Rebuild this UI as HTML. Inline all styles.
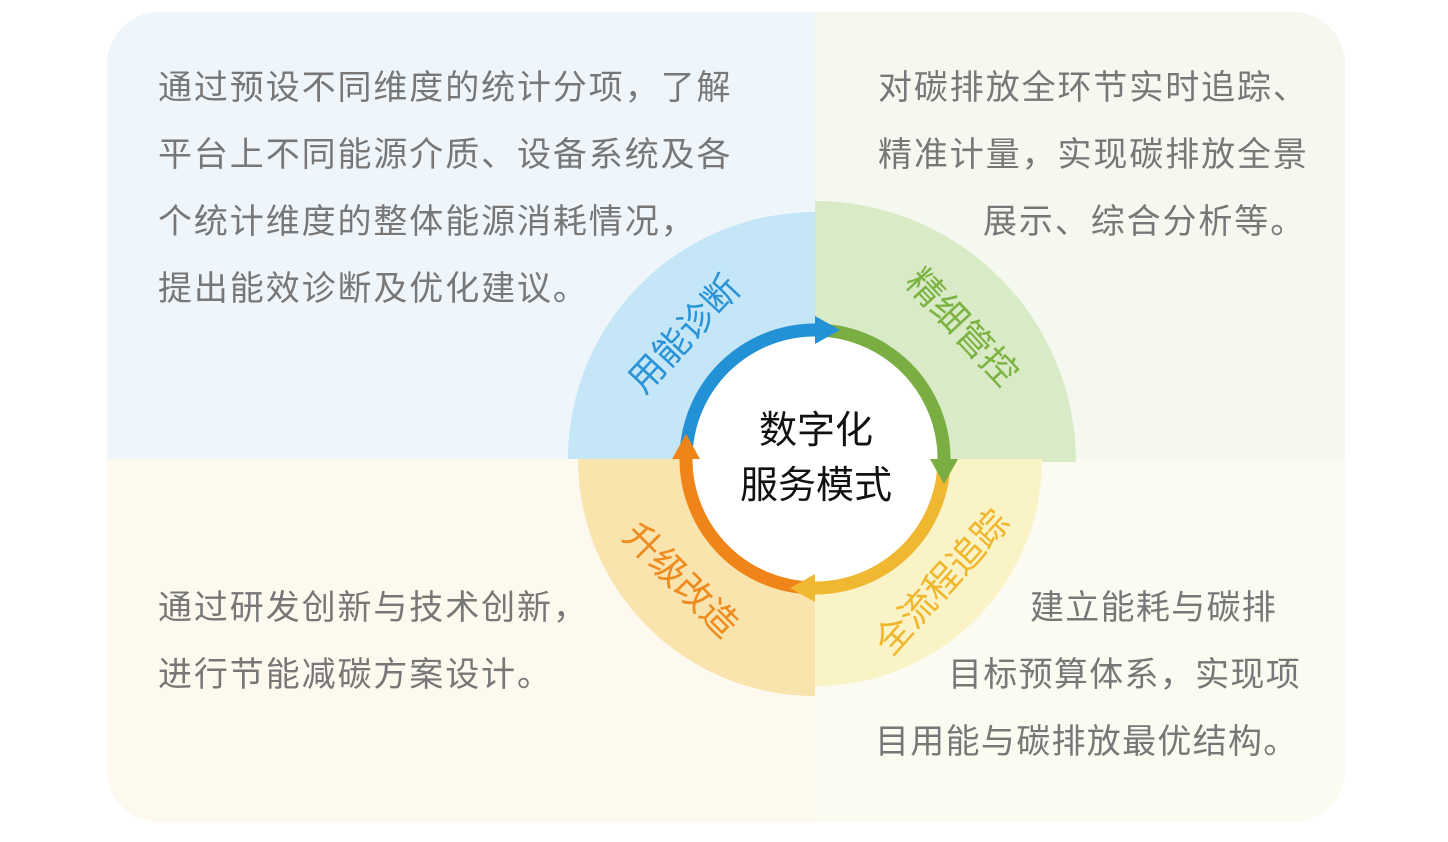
<!DOCTYPE html>
<html><head><meta charset="utf-8"><style>
html,body{margin:0;padding:0;background:#fff;}
body{width:1448px;height:842px;position:relative;overflow:hidden;}
svg{position:absolute;left:0;top:0;}
.t{position:absolute;font-family:"Liberation Sans","Noto Sans CJK SC",sans-serif;font-size:34px;color:#777;letter-spacing:1.9px;white-space:nowrap;line-height:40px;}
.br{letter-spacing:1.3px;}
</style></head><body>
<svg width="1448" height="842" viewBox="0 0 1448 842">
<defs><clipPath id="c"><rect x="107" y="12" width="1238" height="810" rx="52"/></clipPath></defs>
<g clip-path="url(#c)">
<rect x="107" y="12" width="708" height="447" fill="#eef6fc"/>
<rect x="815" y="12" width="530" height="447" fill="#f5f8ef"/>
<rect x="107" y="459" width="708" height="363" fill="#fdf9ee"/>
<rect x="815" y="459" width="530" height="363" fill="#fbfbf1"/>
</g>
<path d="M815,459 L568,459 A247,247 0 0 1 815,212 Z" fill="#c5e6f6"/>
<path d="M815,462 L815,201 A261,261 0 0 1 1076,462 Z" fill="#d8eac6"/>
<path d="M815,459 L1042,459 A227,227 0 0 1 815,686 Z" fill="#f9f3c6"/>
<path d="M815,459 L815,696 A237,237 0 0 1 578,459 Z" fill="#f9e4ae"/>
<circle cx="815" cy="459" r="123" fill="#fff"/>
<g fill="none" stroke-width="13">
<path d="M686,459 A129,129 0 0 1 815,330" stroke="#2291d6"/>
<path d="M815,330 A129,129 0 0 1 944,459" stroke="#7aae42"/>
<path d="M944,459 A129,129 0 0 1 815,588" stroke="#f0b731"/>
<path d="M815,588 A129,129 0 0 1 686,459" stroke="#ef8519"/>
</g>
<polygon points="815,316 815,344 840,330" fill="#2291d6"/>
<polygon points="930,459 958,459 944,484" fill="#7aae42"/>
<polygon points="815,574 815,602 790,588" fill="#f0b731"/>
<polygon points="672,459 700,459 686,434" fill="#ef8519"/>
<g font-family="Liberation Sans, Noto Sans CJK SC, sans-serif" font-size="36" text-anchor="middle" dominant-baseline="central">
<text x="684" y="334" fill="#2b93d8" transform="rotate(-47 684 334)">用能诊断</text>
<text x="962" y="327" fill="#7cb342" transform="rotate(47 962 327)">精细管控</text>
<text x="942" y="582" fill="#f0b62c" transform="rotate(-48 942 582)">全流程追踪</text>
<text x="681" y="580" fill="#ef8a1e" transform="rotate(45 681 580)">升级改造</text>
</g>
<g font-family="Liberation Sans, Noto Sans CJK SC, sans-serif" font-size="38" text-anchor="middle" fill="#111">
<text x="816" y="443">数字化</text>
<text x="816" y="498">服务模式</text>
</g>
</svg>
<div class="t" style="left:158px;top:68px">通过预设不同维度的统计分项，了解</div>
<div class="t" style="left:158px;top:135px">平台上不同能源介质、设备系统及各</div>
<div class="t" style="left:158px;top:202px">个统计维度的整体能源消耗情况，</div>
<div class="t" style="left:158px;top:269px">提出能效诊断及优化建议。</div>
<div class="t" style="left:878px;top:68px">对碳排放全环节实时追踪、</div>
<div class="t" style="left:878px;top:135px">精准计量，实现碳排放全景</div>
<div class="t" style="left:983px;top:202px">展示、综合分析等。</div>
<div class="t" style="left:158px;top:588px">通过研发创新与技术创新，</div>
<div class="t" style="left:158px;top:655px">进行节能减碳方案设计。</div>
<div class="t br" style="left:1030px;top:588px">建立能耗与碳排</div>
<div class="t br" style="left:948px;top:655px">目标预算体系，实现项</div>
<div class="t br" style="left:875px;top:722px">目用能与碳排放最优结构。</div>
</body></html>
